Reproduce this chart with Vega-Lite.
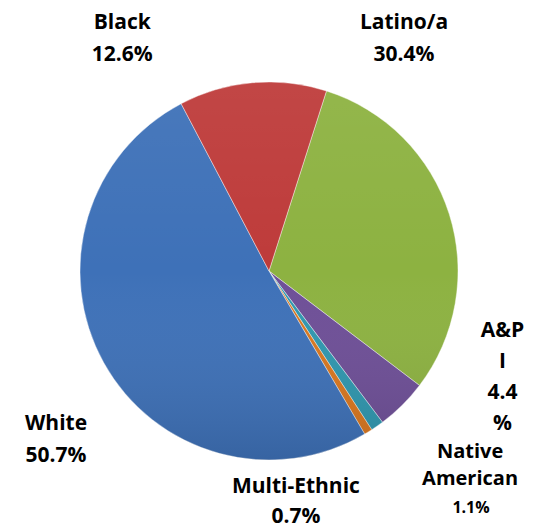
{
  "$schema": "https://vega.github.io/schema/vega-lite/v6.json",
  "autosize": {"type": "none"},
  "width": 538,
  "height": 516,
  "padding": {"left": 0, "top": 13, "right": 8, "bottom": 0},
  "background": "white",
  "config": {"view": {"stroke": null}},
  "data": {"values": [
    {"group": "Latino/a", "pct": 30.4, "order": 1},
    {"group": "A&PI", "pct": 4.4, "order": 2},
    {"group": "Native American", "pct": 1.1, "order": 3},
    {"group": "Multi-Ethnic", "pct": 0.7, "order": 4},
    {"group": "White", "pct": 50.7, "order": 5},
    {"group": "Black", "pct": 12.6, "order": 6}
  ]},
  "transform": [
    {"stack": "pct", "groupby": [], "sort": [{"field": "order", "order": "ascending"}], "as": ["start", "end"]},
    {"calculate": "(datum.start + datum.end) / 2", "as": "mid"}
  ],
  "layer": [
    {
      "mark": {"type": "arc", "radius": 189, "stroke": "#ffffff", "strokeWidth": 0.6, "strokeOpacity": 0.7},
      "encoding": {
        "theta": {"field": "start", "type": "quantitative", "stack": null, "scale": {"domain": [0, 99.9], "range": [0.30892, 6.59211]}},
        "theta2": {"field": "end"},
        "color": {"field": "group", "type": "nominal", "legend": null,
          "scale": {"domain": ["Latino/a", "A&PI", "Native American", "Multi-Ethnic", "White", "Black"],
                    "range": ["#8DB241", "#6E4F97", "#2F97AF", "#D9771F", "#3E71B8", "#BE3B3A"]}}
      }
    },
    {
      "transform": [{"aggregate": [{"op": "sum", "field": "pct", "as": "total"}]}],
      "mark": {"type": "arc", "radius": 189,
        "color": {"gradient": "linear", "x1": 0, "y1": 0, "x2": 0, "y2": 1,
          "stops": [{"offset": 0, "color": "rgba(255,255,255,0.06)"}, {"offset": 0.5, "color": "rgba(255,255,255,0)"}, {"offset": 1, "color": "rgba(0,0,0,0.12)"}]}},
      "encoding": {
        "theta": {"field": "total", "type": "quantitative", "stack": true, "scale": {"domain": [0, 99.9], "range": [0.30892, 6.59211]}}
      }
    },
    {
      "transform": [{"filter": "datum.group === 'Black'"}, {"calculate": "datum.group + '\\n' + format(datum.pct, '.1f') + '%'", "as": "label"}],
      "mark": {"type": "text", "radius": 215, "dx": -128, "dy": -45, "align": "center", "baseline": "top", "font": "Open Sans", "fontWeight": "bold", "fontSize": 21, "lineHeight": 32, "lineBreak": "\n", "color": "#000000"},
      "encoding": {
        "theta": {"field": "mid", "type": "quantitative", "stack": null, "scale": {"domain": [0, 99.9], "range": [0.30892, 6.59211]}},
        "text": {"field": "label", "type": "nominal"}
      }
    },
    {
      "transform": [{"filter": "datum.group === 'Latino/a'"}, {"calculate": "datum.group + '\\n' + format(datum.pct, '.1f') + '%'", "as": "label"}],
      "mark": {"type": "text", "radius": 215, "dx": -70, "dy": -194, "align": "center", "baseline": "top", "font": "Open Sans", "fontWeight": "bold", "fontSize": 21, "lineHeight": 32, "lineBreak": "\n", "color": "#000000"},
      "encoding": {
        "theta": {"field": "mid", "type": "quantitative", "stack": null, "scale": {"domain": [0, 99.9], "range": [0.30892, 6.59211]}},
        "text": {"field": "label", "type": "nominal"}
      }
    },
    {
      "transform": [{"filter": "datum.group === 'A&PI'"}, {"calculate": "'A&P\\nI\\n' + format(datum.pct, '.1f') + '\\n%'", "as": "label"}],
      "mark": {"type": "text", "radius": 215, "dx": 82, "dy": -103, "align": "center", "baseline": "top", "font": "Open Sans", "fontWeight": "bold", "fontSize": 21, "lineHeight": 31, "lineBreak": "\n", "color": "#000000"},
      "encoding": {
        "theta": {"field": "mid", "type": "quantitative", "stack": null, "scale": {"domain": [0, 99.9], "range": [0.30892, 6.59211]}},
        "text": {"field": "label", "type": "nominal"}
      }
    },
    {
      "transform": [{"filter": "datum.group === 'Native American'"}, {"calculate": "'Native\\nAmerican'", "as": "label"}],
      "mark": {"type": "text", "radius": 215, "dx": 78, "dy": -5, "align": "center", "baseline": "top", "font": "Open Sans", "fontWeight": "bold", "fontSize": 20, "lineHeight": 27, "lineBreak": "\n", "color": "#000000"},
      "encoding": {
        "theta": {"field": "mid", "type": "quantitative", "stack": null, "scale": {"domain": [0, 99.9], "range": [0.30892, 6.59211]}},
        "text": {"field": "label", "type": "nominal"}
      }
    },
    {
      "transform": [{"filter": "datum.group === 'Native American'"}, {"calculate": "format(datum.pct, '.1f') + '%'", "as": "label"}],
      "mark": {"type": "text", "radius": 215, "dx": 79, "dy": 53, "align": "center", "baseline": "top", "font": "Open Sans", "fontWeight": "bold", "fontSize": 16, "color": "#000000"},
      "encoding": {
        "theta": {"field": "mid", "type": "quantitative", "stack": null, "scale": {"domain": [0, 99.9], "range": [0.30892, 6.59211]}},
        "text": {"field": "label", "type": "nominal"}
      }
    },
    {
      "transform": [{"filter": "datum.group === 'Multi-Ethnic'"}, {"calculate": "datum.group + '\\n' + format(datum.pct, '.1f') + '%'", "as": "label"}],
      "mark": {"type": "text", "radius": 215, "dx": -86, "dy": 22, "align": "center", "baseline": "top", "font": "Open Sans", "fontWeight": "bold", "fontSize": 21, "lineHeight": 30, "lineBreak": "\n", "color": "#000000"},
      "encoding": {
        "theta": {"field": "mid", "type": "quantitative", "stack": null, "scale": {"domain": [0, 99.9], "range": [0.30892, 6.59211]}},
        "text": {"field": "label", "type": "nominal"}
      }
    },
    {
      "transform": [{"filter": "datum.group === 'White'"}, {"calculate": "datum.group + '\\n' + format(datum.pct, '.1f') + '%'", "as": "label"}],
      "mark": {"type": "text", "radius": 215, "dx": -25, "dy": 38, "align": "center", "baseline": "top", "font": "Open Sans", "fontWeight": "bold", "fontSize": 21, "lineHeight": 32, "lineBreak": "\n", "color": "#000000"},
      "encoding": {
        "theta": {"field": "mid", "type": "quantitative", "stack": null, "scale": {"domain": [0, 99.9], "range": [0.30892, 6.59211]}},
        "text": {"field": "label", "type": "nominal"}
      }
    }
  ]
}
